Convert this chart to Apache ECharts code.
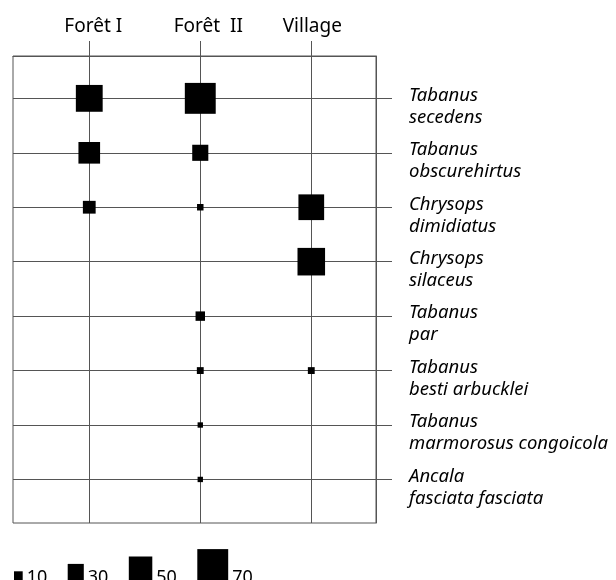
<!DOCTYPE html>
<html><head><meta charset="utf-8">
<script src="https://cdn.jsdelivr.net/npm/echarts@6/dist/echarts.min.js"></script>
<style>html,body{margin:0;padding:0;background:#fff}#c{width:616px;height:580px}</style>
</head><body><div id="c"></div>
<script>
// ---- data ----
const sites = ['Forêt I', 'Forêt  II', 'Village'];
const species = [
  ['Tabanus', 'secedens'],
  ['Tabanus', 'obscurehirtus'],
  ['Chrysops', 'dimidiatus'],
  ['Chrysops', 'silaceus'],
  ['Tabanus', 'par'],
  ['Tabanus', 'besti arbucklei'],
  ['Tabanus', 'marmorosus congoicola'],
  ['Ancala', 'fasciata fasciata']
];
const foret1  = [59, 45, 21, 0, 0, 0, 0, 0];
const foret2  = [70, 30, 4, 0, 12, 5, 1, 1];
const village = [0, 0, 56, 61, 0, 5, 0, 0];
const legendValues = [10, 30, 50, 70];

// ---- build ----
const siteValues = [foret1, foret2, village];
const points = [];
siteValues.forEach((arr, i) => arr.forEach((v, j) => { if (v > 0) points.push([i, j, v]); }));
const sizeOf = v => 0.37 * v + 5;
const siteIdx = sites.map((_, i) => i);
const rowIdx = species.map((_, i) => i);
const lineColor = '#555';
const FONT = 'Noto Sans';

// legend graphics laid out sequentially
const legendEls = [];
let cx = 14;
legendValues.forEach(v => {
  const s = sizeOf(v);
  legendEls.push({type: 'rect', shape: {x: cx, y: 580 - s, width: s, height: s}, style: {fill: '#000'}, silent: true});
  legendEls.push({type: 'text', x: cx + s + 4, y: 587, style: {text: String(v), font: '18px "' + FONT + '"', fill: '#000', verticalAlign: 'bottom', align: 'left'}, silent: true});
  cx += s + 4 + 21 + 20;
});

const topShift = [8, 16, 2];
const rich = {};
topShift.forEach((p, i) => { rich['s' + i] = {padding: [0, 0, 0, p], fontSize: 19, fontFamily: FONT, color: '#000'}; });
const spStyle = {fontSize: 18.5, fontStyle: 'italic', fontFamily: FONT, color: '#000'};
const richY = {
  a: Object.assign({lineHeight: 38}, spStyle),
  b: Object.assign({lineHeight: 6}, spStyle)
};

const chart = echarts.init(document.getElementById('c'), null, {renderer: 'canvas'});
chart.setOption({
  animation: false,
  backgroundColor: '#fff',
  textStyle: {fontFamily: FONT},
  grid: {left: 13, top: 56, width: 363, height: 467, show: true, borderColor: lineColor, borderWidth: 1, backgroundColor: 'transparent'},
  xAxis: {
    type: 'value', position: 'top', min: -0.687, max: 2.583,
    axisLine: {show: true, onZero: false, lineStyle: {color: lineColor, width: 1}},
    axisTick: {show: true, inside: false, customValues: siteIdx, length: 15, lineStyle: {color: lineColor, width: 1}},
    axisLabel: {customValues: siteIdx, margin: 20, formatter: v => '{s' + v + '|' + sites[v] + '}', rich: rich, fontSize: 19, color: '#000', showMinLabel: true, showMaxLabel: true, hideOverlap: false},
    splitLine: {show: true, lineStyle: {color: lineColor, width: 1}}
  },
  yAxis: {
    type: 'value', inverse: true, position: 'right', min: -0.778, max: 7.80,
    axisLine: {show: true, onZero: false, lineStyle: {color: lineColor, width: 1}},
    axisTick: {show: true, inside: false, customValues: rowIdx, length: 16, lineStyle: {color: lineColor, width: 1}},
    axisLabel: {customValues: rowIdx, margin: 33, formatter: v => '{a|' + species[v][0] + '}\n{b|' + species[v][1] + '}', rich: richY, color: '#000', align: 'left', showMinLabel: true, showMaxLabel: true, hideOverlap: false},
    splitLine: {show: true, lineStyle: {color: lineColor, width: 1}}
  },
  series: [{
    type: 'scatter', symbol: 'rect',
    data: points,
    symbolSize: d => sizeOf(d[2]),
    itemStyle: {color: '#000', opacity: 1},
    silent: true
  }],
  graphic: legendEls
});
</script></body></html>
